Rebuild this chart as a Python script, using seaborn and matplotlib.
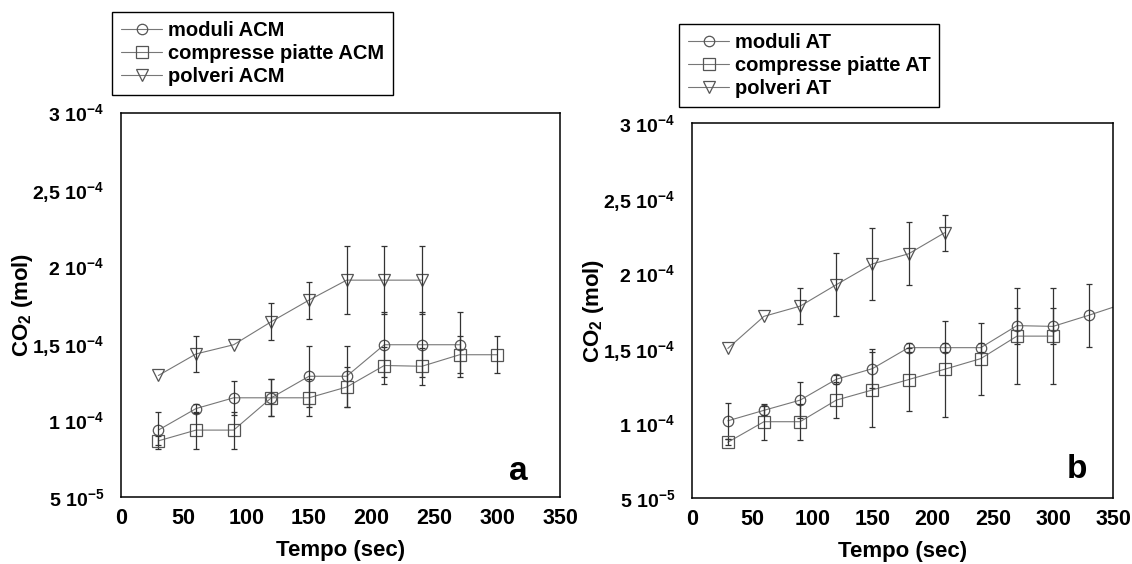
import numpy as np
import pandas as pd
import seaborn as sns
import matplotlib.pyplot as plt

# valori in unità di 1e-4 mol
SCALA = 1e-4

# pannello a (ACM)
tempo_mod_acm = [30, 60, 90, 120, 150, 180, 210, 240, 270]
co2_mod_acm = [0.935, 1.075, 1.145, 1.145, 1.285, 1.285, 1.49, 1.49, 1.49]
err_mod_acm = [0.12, 0.03, 0.11, 0.12, 0.2, 0.2, 0.21, 0.21, 0.21]

tempo_cp_acm = [30, 60, 90, 120, 150, 180, 210, 240, 270, 300]
co2_cp_acm = [0.865, 0.935, 0.935, 1.145, 1.145, 1.215, 1.355, 1.35, 1.425, 1.425]
err_cp_acm = [0.03, 0.12, 0.12, 0.12, 0.12, 0.13, 0.12, 0.12, 0.12, 0.12]

tempo_pol_acm = [30, 60, 90, 120, 150, 180, 210, 240]
co2_pol_acm = [1.29, 1.43, 1.49, 1.64, 1.78, 1.91, 1.91, 1.91]
err_pol_acm = [0, 0.12, 0, 0.12, 0.12, 0.22, 0.22, 0.22]

# pannello b (AT)
tempo_mod_at = [30, 60, 90, 120, 150, 180, 210, 240, 270, 300, 330, 360]
co2_mod_at = [1.015, 1.085, 1.153, 1.292, 1.363, 1.503, 1.503, 1.503, 1.65, 1.645, 1.72, 1.80]
err_mod_at = [0.12, 0.03, 0.12, 0.03, 0.13, 0.03, 0.03, 0.03, 0.12, 0.12, 0.21, 0]

tempo_cp_at = [30, 60, 90, 120, 150, 180, 210, 240, 270, 300]
co2_cp_at = [0.872, 1.009, 1.009, 1.153, 1.221, 1.29, 1.359, 1.43, 1.58, 1.58]
err_cp_at = [0.02, 0.12, 0.12, 0.12, 0.25, 0.21, 0.32, 0.24, 0.32, 0.32]

tempo_pol_at = [30, 60, 90, 120, 150, 180, 210]
co2_pol_at = [1.498, 1.712, 1.78, 1.923, 2.062, 2.129, 2.27]
err_pol_at = [0, 0, 0.12, 0.21, 0.24, 0.21, 0.12]

xtick_vals = [0, 50, 100, 150, 200, 250, 300, 350]
ytick_vals = [0.5, 1, 1.5, 2, 2.5, 3]
ytick_labels = ['5 10$^{-5}$', '1 10$^{-4}$', '1,5 10$^{-4}$',
                '2 10$^{-4}$', '2,5 10$^{-4}$', '3 10$^{-4}$']

sns.set_style("white")
plt.rcParams['font.family'] = ['Liberation Sans', 'DejaVu Sans']
plt.rcParams['font.weight'] = 'bold'
plt.rcParams['text.color'] = 'black'
plt.rcParams['axes.labelcolor'] = 'black'
plt.rcParams['mathtext.fontset'] = 'custom'
plt.rcParams['mathtext.rm'] = 'Liberation Sans'
plt.rcParams['mathtext.bf'] = 'Liberation Sans:bold'
plt.rcParams['mathtext.default'] = 'bf'

LINEA = '#777777'
MARK = '#555555'
ERR = '#333333'

W, H = 1132, 564
fig = plt.figure(figsize=(W / 100, H / 100), dpi=100)
ax_a = fig.add_axes([120.7 / W, 1 - 497 / H, 439.3 / W, 384.5 / H])
ax_b = fig.add_axes([691.7 / W, 1 - 498 / H, 421.6 / W, 374.7 / H])


def disegna(ax, serie, lettera, pos_lettera, pos_legenda):
    for nome, x, y, err, marker, ms in serie:
        df = pd.DataFrame({'tempo': x,
                           'co2': np.array(y) * SCALA,
                           'err': np.array(err) * SCALA})
        sns.lineplot(data=df, x='tempo', y='co2', ax=ax, color=LINEA, lw=0.8,
                     marker=marker, markersize=ms, markerfacecolor='none',
                     markeredgecolor=MARK, markeredgewidth=0.9,
                     label=nome, errorbar=None)
        m = df['err'] > 0
        ax.errorbar(df['tempo'][m], df['co2'][m], yerr=df['err'][m], fmt='none',
                    ecolor=ERR, elinewidth=0.9, capsize=2.5, capthick=0.9)

    ax.set_xlim(0, 350)
    ax.set_ylim(0.5 * SCALA, 3 * SCALA)
    ax.set_xticks(xtick_vals)
    ax.set_yticks([v * SCALA for v in ytick_vals])
    ax.set_yticklabels(ytick_labels)
    ax.tick_params(direction='in', length=5, width=1, colors='black')
    ax.tick_params(axis='x', pad=8, labelsize=15.5)
    ax.tick_params(axis='y', pad=12, labelsize=14)
    for lab in ax.get_xticklabels() + ax.get_yticklabels():
        lab.set_fontweight('bold')
    for sp in ax.spines.values():
        sp.set_color('black')
        sp.set_linewidth(1.1)

    ax.set_xlabel('Tempo (sec)', fontsize=16, fontweight='bold', labelpad=8)
    ax.set_ylabel('CO$_{\\mathrm{2}}$ (mol)', fontsize=16, fontweight='bold',
                  labelpad=-2)

    ax.text(pos_lettera[0], pos_lettera[1], lettera, transform=ax.transAxes,
            fontsize=24, fontweight='bold', ha='right', va='baseline')

    leg = ax.legend(loc='upper left', bbox_to_anchor=pos_legenda,
                    bbox_transform=fig.transFigure, borderaxespad=0,
                    prop={'weight': 'bold', 'size': 14.5}, fancybox=False,
                    framealpha=1, edgecolor='black', handlelength=2.0,
                    handletextpad=0.3, labelspacing=0.2, borderpad=0.45)
    leg.get_frame().set_linewidth(1.0)


serie_a = [
    ('moduli ACM', tempo_mod_acm, co2_mod_acm, err_mod_acm, 'o', 7.5),
    ('compresse piatte ACM', tempo_cp_acm, co2_cp_acm, err_cp_acm, 's', 8.5),
    ('polveri ACM', tempo_pol_acm, co2_pol_acm, err_pol_acm, 'v', 8.5),
]
serie_b = [
    ('moduli AT', tempo_mod_at, co2_mod_at, err_mod_at, 'o', 7.5),
    ('compresse piatte AT', tempo_cp_at, co2_cp_at, err_cp_at, 's', 8.5),
    ('polveri AT', tempo_pol_at, co2_pol_at, err_pol_at, 'v', 8.5),
]

disegna(ax_a, serie_a, 'a', (0.927, 0.044), (112.3 / W, 1 - 12 / H))
disegna(ax_b, serie_b, 'b', (0.938, 0.053), (679.3 / W, 1 - 24.3 / H))

fig.savefig('out.png', dpi=100)
